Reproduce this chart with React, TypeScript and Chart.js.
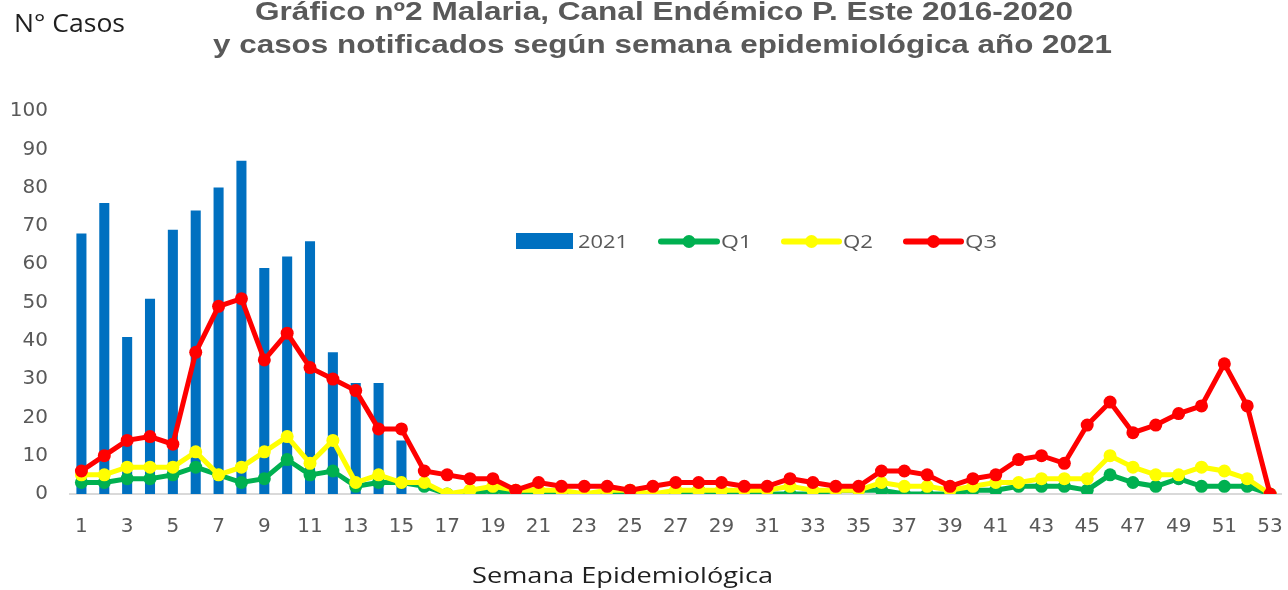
import React, { useEffect, useRef } from "react";
import { Chart, registerables } from "chart.js";

Chart.register(...registerables);

const weeks = [
  "1", "2", "3", "4", "5", "6", "7", "8", "9", "10",
  "11", "12", "13", "14", "15", "16", "17", "18", "19", "20",
  "21", "22", "23", "24", "25", "26", "27", "28", "29", "30",
  "31", "32", "33", "34", "35", "36", "37", "38", "39", "40",
  "41", "42", "43", "44", "45", "46", "47", "48", "49", "50",
  "51", "52", "53",
];

const cases2021 = [68, 76, 41, 51, 69, 74, 80, 87, 59, 62, 66, 37, 29, 29, 14];

const q1 = [
  3, 3, 4, 4, 5, 7, 5, 3, 4, 9,
  5, 6, 2, 3, 3, 2, 0, 0, 1, 0,
  0, 0, 0, 0, 0, 0, 0, 1, 0, 0,
  0, 0, 0, 1, 1, 1, 0, 0, 0, 1,
  1, 2, 2, 2, 1, 5, 3, 2, 4, 2,
  2, 2, 0,
];

const q2 = [
  5, 5, 7, 7, 7, 11, 5, 7, 11, 15,
  8, 14, 3, 5, 3, 3, 0, 1, 2, 1,
  1, 1, 0, 1, 1, 0, 1, 1, 1, 1,
  1, 2, 1, 1, 1, 3, 2, 2, 1, 2,
  3, 3, 4, 4, 4, 10, 7, 5, 5, 7,
  6, 4, 0,
];

const q3 = [
  6, 10, 14, 15, 13, 37, 49, 51, 35, 42,
  33, 30, 27, 17, 17, 6, 5, 4, 4, 1,
  3, 2, 2, 2, 1, 2, 3, 3, 3, 2,
  2, 4, 3, 2, 2, 6, 6, 5, 2, 4,
  5, 9, 10, 8, 18, 24, 16, 18, 21, 23,
  34, 23, 0,
];

const titleLines = [
  "Gráfico nº2 Malaria, Canal Endémico P. Este 2016-2020",
  "y casos notificados según semana epidemiológica año 2021",
];
const yAxisTitle = "N° Casos";
const xAxisTitle = "Semana Epidemiológica";

const BLUE = "#0070C0";
const GREEN = "#00B050";
const YELLOW = "#FFFF00";
const RED = "#FF0000";
const GRAY_TEXT = "#595959";

function fitText(
  ctx: CanvasRenderingContext2D,
  text: string,
  font: string,
  color: string,
  left: number,
  baseline: number,
  width: number
) {
  ctx.save();
  ctx.font = font;
  ctx.fillStyle = color;
  ctx.textAlign = "left";
  ctx.textBaseline = "alphabetic";
  const w = ctx.measureText(text).width;
  const s = width / w;
  ctx.translate(left, baseline);
  ctx.scale(s, 1);
  ctx.fillText(text, 0, 0);
  ctx.restore();
}

const decorPlugin = {
  id: "decor",
  afterDraw(chart: any) {
    const ctx: CanvasRenderingContext2D = chart.ctx;
    fitText(ctx, titleLines[0], 'bold 26px "Liberation Sans"', GRAY_TEXT, 255, 20, 818);
    fitText(ctx, titleLines[1], 'bold 26px "Liberation Sans"', GRAY_TEXT, 213, 53, 899);
    fitText(ctx, yAxisTitle, '25px "Open Sans"', "#1f1f1f", 14, 32, 111);
    fitText(ctx, xAxisTitle, '21px "Open Sans"', "#1f1f1f", 472, 583, 301);

    const cy = 241.5;
    ctx.save();
    ctx.fillStyle = BLUE;
    ctx.fillRect(516, 233, 57, 16);
    ctx.restore();
    fitText(ctx, "2021", '19px "Open Sans"', GRAY_TEXT, 578, 248, 50);

    const items = [
      { label: "Q1", color: GREEN, x0: 658, x1: 720, tx: 721, tw: 31 },
      { label: "Q2", color: YELLOW, x0: 781, x1: 842, tx: 843, tw: 30 },
      { label: "Q3", color: RED, x0: 903, x1: 964, tx: 965, tw: 32 },
    ];
    for (const it of items) {
      ctx.save();
      ctx.strokeStyle = it.color;
      ctx.lineWidth = 6;
      ctx.lineCap = "round";
      ctx.beginPath();
      ctx.moveTo(it.x0 + 3, cy);
      ctx.lineTo(it.x1 - 3, cy);
      ctx.stroke();
      ctx.fillStyle = it.color;
      ctx.beginPath();
      ctx.arc((it.x0 + it.x1) / 2, cy, 6.5, 0, Math.PI * 2);
      ctx.fill();
      ctx.restore();
      fitText(ctx, it.label, '19px "Open Sans"', GRAY_TEXT, it.tx, 248, it.tw);
    }
  },
};

export default function App() {
  const ref = useRef<HTMLCanvasElement | null>(null);

  useEffect(() => {
    document.body.style.margin = "0";
    const canvas = ref.current;
    if (!canvas) return;
    const lineDs = (label: string, data: number[], color: string, order: number) => ({
      type: "line" as const,
      label,
      data,
      borderColor: color,
      backgroundColor: color,
      borderWidth: 5,
      pointRadius: 6.5,
      pointBackgroundColor: color,
      pointBorderWidth: 0,
      tension: 0,
      order,
    });
    const chart = new Chart(canvas, {
      type: "bar",
      data: {
        labels: weeks,
        datasets: [
          {
            type: "bar",
            label: "2021",
            data: cases2021,
            backgroundColor: BLUE,
            barPercentage: 0.44,
            categoryPercentage: 1,
            order: 4,
          } as any,
          lineDs("Q1", q1, GREEN, 3),
          lineDs("Q2", q2, YELLOW, 2),
          lineDs("Q3", q3, RED, 1),
        ],
      },
      options: {
        responsive: false,
        animation: false,
        layout: { padding: { top: 111, right: 3, left: 0, bottom: 0 } },
        plugins: {
          legend: { display: false },
          title: { display: false },
          tooltip: { enabled: false },
        },
        scales: {
          x: {
            offset: true,
            grid: { display: false, drawTicks: true, tickLength: 21 },
            border: { display: true, color: "#d9d9d9", width: 2 },
            ticks: {
              autoSkip: false,
              maxRotation: 0,
              minRotation: 0,
              padding: 0,
              color: GRAY_TEXT,
              font: { family: "DejaVu Sans", size: 20 },
              callback: (_v: any, i: number) => (i % 2 === 0 ? weeks[i] : ""),
            },
            afterFit: (s: any) => {
              s.height = 96;
            },
          },
          y: {
            min: 0,
            max: 100,
            grid: { display: false, drawTicks: false },
            border: { display: false },
            ticks: {
              stepSize: 10,
              padding: 22,
              color: GRAY_TEXT,
              font: { family: "DejaVu Sans", size: 20 },
            },
            afterFit: (s: any) => {
              s.width = 70;
            },
          },
        },
      },
      plugins: [decorPlugin],
    });
    return () => chart.destroy();
  }, []);

  return (
    <div style={{ width: 1288, height: 590, background: "#fff" }}>
      <canvas ref={ref} width={1288} height={590} style={{ display: "block" }} />
    </div>
  );
}
